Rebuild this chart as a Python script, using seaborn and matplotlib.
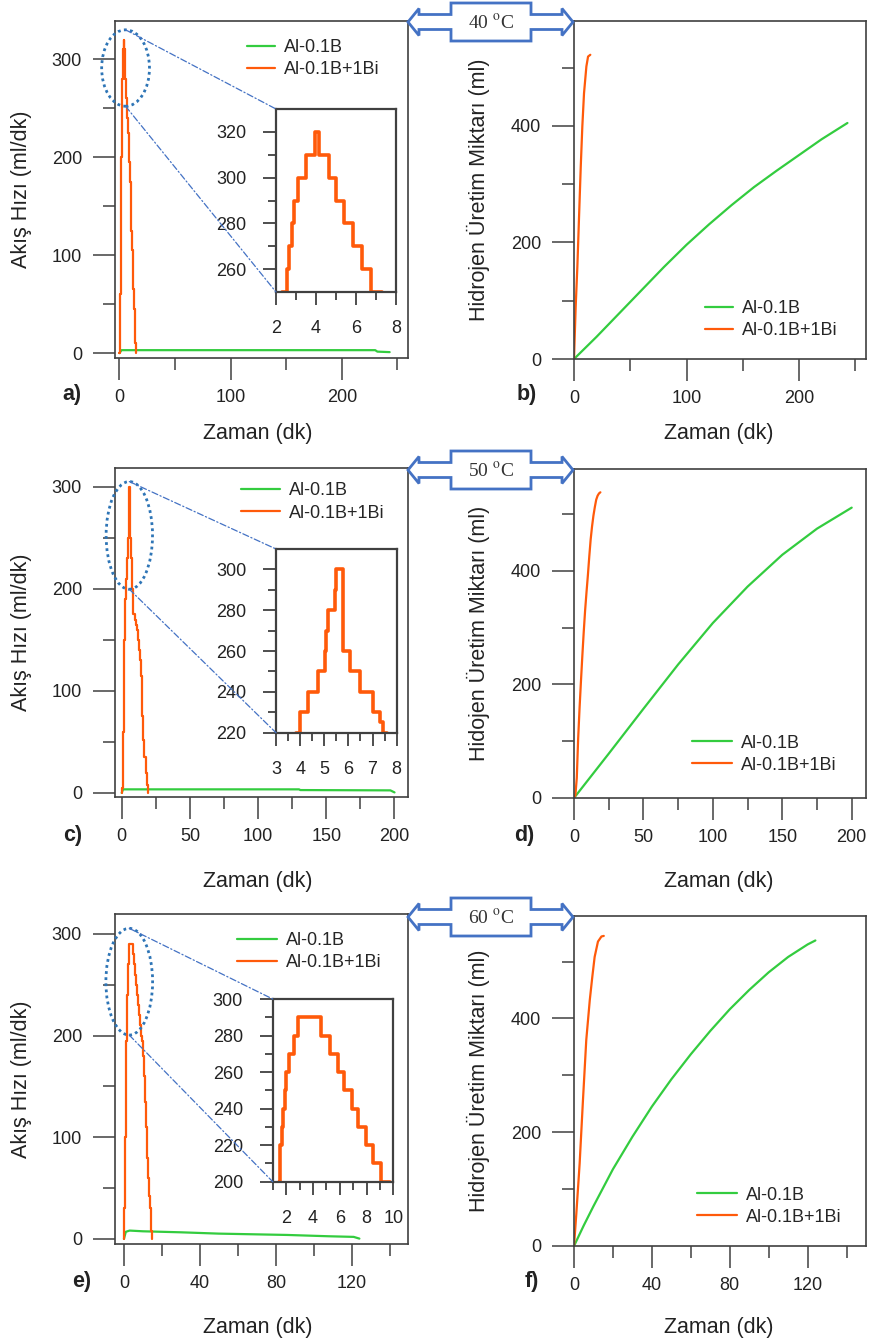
import matplotlib
matplotlib.use("Agg")
import matplotlib.pyplot as plt
import seaborn as sns
from matplotlib.patches import Ellipse, Polygon, ConnectionPatch

# --- veriler ---
labels = ["Al-0.1B", "Al-0.1B+1Bi"]

# 40 C - akis hizi (ml/dk)
t_a_b = [0, 2, 60, 120, 180, 230, 232, 243]
q_a_b = [0, 3, 3, 3, 3, 3, 1.5, 1]
t_a_bi = [0, 0.4, 0.8, 1.2, 1.6, 2.0, 2.3, 2.57, 2.67, 2.78, 2.92, 3.12, 3.5, 3.95, 4.17,
          4.67, 5.0, 5.42, 5.83, 6.28, 6.73, 7.28, 7.8, 8.4, 9.0, 9.6, 10.2, 10.8, 11.4,
          12.0, 12.6, 13.2, 13.8, 14.4, 15.0]
q_a_bi = [0, 10, 60, 170, 200, 230, 250, 260, 270, 280, 290, 300, 310, 320, 310,
          300, 290, 280, 270, 260, 250, 240, 225, 210, 195, 175, 150, 125, 105,
          85, 65, 45, 25, 10, 0]

# 40 C - hidrojen miktari (ml)
t_b_b = [0, 20, 40, 60, 80, 100, 120, 140, 160, 180, 200, 220, 243]
v_b_b = [0, 38, 78, 118, 158, 196, 231, 264, 295, 323, 350, 377, 405]
t_b_bi = [0, 1.5, 3, 4.5, 6, 7.4, 8.9, 11, 12.5, 14.5]
v_b_bi = [0, 90, 159, 245, 330, 399, 456, 502, 519, 522]

# 50 C - akis hizi
t_c_b = [0, 1, 130, 131, 197, 200]
q_c_b = [0, 3.5, 3.5, 2.8, 2.5, 0.5]
t_c_bi = [0, 0.3, 1.0, 1.3, 1.8, 2.3, 2.8, 3.3, 3.83, 4.0, 4.34, 4.75, 5.03, 5.08, 5.15,
          5.45, 5.5, 5.79, 6.07, 6.48, 7.03, 7.3, 7.45, 7.6, 8.0, 8.5, 9.5, 10.5, 11.0,
          12.0, 13.0, 13.6, 14.2, 14.6, 15.2, 15.9, 16.6, 17.6, 18.3, 19.0]
q_c_bi = [0, 5, 5, 60, 150, 190, 200, 210, 220, 230, 240, 250, 260, 270, 280,
          290, 300, 260, 250, 240, 230, 225, 220, 200, 185, 175, 170, 165, 160,
          150, 140, 130, 115, 100, 75, 52, 35, 20, 8, 0]

# 50 C - hidrojen miktari
t_d_b = [0, 25, 50, 75, 100, 125, 150, 175, 200]
v_d_b = [0, 78, 157, 235, 308, 372, 428, 474, 511]
t_d_bi = [0, 1, 2, 3, 4, 5, 6, 7, 8, 9, 10, 11, 12, 13, 14, 15, 16, 17, 18, 19]
v_d_bi = [0, 5, 35, 105, 158, 205, 250, 292, 330, 362, 392, 425, 455, 478, 497,
          512, 525, 532, 536, 538]

# 60 C - akis hizi
t_e_b = [0, 1, 3, 10, 30, 50, 86, 108, 121, 124]
q_e_b = [0, 7, 8.2, 7.5, 6.5, 5.2, 3.9, 2.6, 2, 0.3]
t_e_bi = [0, 0.3, 0.6, 0.9, 1.2, 1.5, 1.58, 1.67, 1.8, 1.92, 2.0, 2.24, 2.6, 2.86, 4.6,
          5.27, 5.9, 6.35, 6.9, 7.4, 7.95, 8.5, 9.05, 9.75, 10.2, 10.6, 11.0, 11.5,
          12.0, 12.5, 13.0, 13.5, 14.0, 14.5, 15.0]
q_e_bi = [0, 30, 100, 170, 195, 200, 220, 230, 240, 250, 260, 270, 280, 290, 280,
          270, 260, 250, 240, 230, 220, 210, 200, 195, 180, 160, 135, 110,
          80, 60, 42, 30, 18, 8, 0]

# 60 C - hidrojen miktari
t_f_b = [0, 5, 10, 20, 30, 40, 50, 60, 70, 80, 90, 100, 110, 120, 124]
v_f_b = [0, 36, 70, 135, 192, 245, 293, 337, 378, 416, 450, 481, 508, 530, 537]
t_f_bi = [0, 1.2, 2.9, 4.6, 6.3, 8.1, 9.4, 10.6, 12.3, 14.1, 15.3]
v_f_bi = [0, 57, 145, 256, 362, 432, 473, 508, 535, 544, 545]

temps = ["40", "50", "60"]
panel_names = ["a)", "b)", "c)", "d)", "e)", "f)"]

GREEN = "#33cc3f"
ORANGE = "#ff5a0a"
FRAME = "#404040"
BLUE = "#4472C4"

sns.set_style("ticks")
plt.rcParams["font.family"] = ["Liberation Sans", "DejaVu Sans"]
plt.rcParams["mathtext.fontset"] = "stix"

W, H = 869, 1342
fig = plt.figure(figsize=(W / 100, H / 100), dpi=100)


def px_axes(left, top, right, bottom):
    return fig.add_axes([left / W, 1 - bottom / H, (right - left) / W, (bottom - top) / H])


def style(ax, xmaj, xmin, ymaj, ymin, inset=False):
    ax.set_xticks(xmaj)
    ax.set_xticks(xmin, minor=True)
    ax.set_yticks(ymaj)
    ax.set_yticks(ymin, minor=True)
    if inset:
        ax.tick_params(axis="both", which="major", length=9.4, width=1.3, colors=FRAME,
                       labelcolor="#222222", labelsize=13)
        ax.tick_params(axis="both", which="minor", length=5.5, width=1.3, colors=FRAME)
        ax.tick_params(axis="x", which="major", pad=11)
        ax.tick_params(axis="y", which="major", pad=12)
    else:
        ax.tick_params(axis="both", which="major", length=15.8, width=1.1, colors=FRAME,
                       labelcolor="#222222", labelsize=13)
        ax.tick_params(axis="both", which="minor", length=8.5, width=1.1, colors=FRAME)
        ax.tick_params(axis="x", which="major", pad=6.5)
        ax.tick_params(axis="y", which="major", pad=8)
    for s in ax.spines.values():
        s.set_color(FRAME)
        s.set_linewidth(1.6 if inset else 1.2)
    ax.set_xlabel("")
    ax.set_ylabel("")


def legend(ax, x, y, hl):
    ax.legend(loc="upper left", bbox_to_anchor=(x, y), frameon=False, fontsize=13,
              handlelength=hl, handletextpad=0.5, labelspacing=0.28,
              borderpad=0, borderaxespad=0)


# panel geometry in pixels: (left, top, right, bottom)
rows = [
    dict(flow=(115, 21, 408, 358), vol=(574, 21, 866, 359), inset=(276, 109, 396, 292)),
    dict(flow=(115, 468, 408, 797), vol=(574, 469, 866, 798), inset=(276, 549, 396.7, 732.7)),
    dict(flow=(115, 914, 408, 1244), vol=(574, 916, 866, 1246), inset=(272.7, 999, 393.3, 1181.7)),
]

flow_data = [(t_a_b, q_a_b, t_a_bi, q_a_bi), (t_c_b, q_c_b, t_c_bi, q_c_bi),
             (t_e_b, q_e_b, t_e_bi, q_e_bi)]
vol_data = [(t_b_b, v_b_b, t_b_bi, v_b_bi), (t_d_b, v_d_b, t_d_bi, v_d_bi),
            (t_f_b, v_f_b, t_f_bi, v_f_bi)]

flow_lims = [((-3.9, 259.5), (-5, 339)), ((-4.9, 209.9), (-4, 318.6)), ((-4.7, 149.6), (-5, 319.6))]
vol_lims = [((0, 259.5), (0, 580)), ((0, 210.3), (0, 579)), ((0, 150), (0, 580))]
x_ticks = [([0, 100, 200], [50, 150, 250]), ([0, 50, 100, 150, 200], [25, 75, 125, 175]),
           ([0, 40, 80, 120], [20, 60, 100, 140])]
inset_lims = [((2, 8), (250, 330)), ((3, 8), (220, 310)), ((1, 10), (200, 300))]
inset_ticks = [([2, 4, 6, 8], [3, 5, 7], [260, 280, 300, 320], [270, 290, 310]),
               ([3, 4, 5, 6, 7, 8], [3.5, 4.5, 5.5, 6.5, 7.5], [220, 240, 260, 280, 300], [230, 250, 270, 290]),
               ([2, 4, 6, 8, 10], [1, 3, 5, 7, 9], [200, 220, 240, 260, 280, 300], [210, 230, 250, 270, 290])]
ellipses = [(5.6, 291, 43, 78), (5.6, 252.5, 34, 105.6), (2.8, 253, 24.6, 105)]
flow_leg = [(0.45, 0.946, 1.55), (0.429, 0.956, 2.2), (0.416, 0.945, 2.2)]
vol_leg = [(0.449, 0.174, 1.55), (0.404, 0.193, 2.2), (0.421, 0.180, 2.2)]
ylab_vol = ["Hidrojen Üretim Miktarı (ml)", "Hidojen Üretim Miktarı (ml)", "Hidrojen Üretim Miktarı (ml)"]
xlab_y = [433, 881, 1328]
plab_y = [395, 835, 1282]
plab_x = [(72, 527), (73, 524), (82, 532)]

for i, r in enumerate(rows):
    # --- akis hizi ---
    ax = px_axes(*r["flow"])
    tb, qb, tbi, qbi = flow_data[i]
    sns.lineplot(x=tb, y=qb, ax=ax, color=GREEN, lw=1.6, label=labels[0])
    sns.lineplot(x=tbi, y=qbi, ax=ax, color=ORANGE, lw=1.6, drawstyle="steps-post",
                 label=labels[1])
    ax.set_xlim(*flow_lims[i][0])
    ax.set_ylim(*flow_lims[i][1])
    style(ax, x_ticks[i][0], x_ticks[i][1], [0, 100, 200, 300], [50, 150, 250])
    legend(ax, *flow_leg[i])

    cx, cy, ew, eh = ellipses[i]
    ax.add_patch(Ellipse((cx, cy), ew, eh, fill=False, ec="#2E75B6", ls=(0, (1, 1.2)),
                         lw=2, clip_on=False, zorder=5))

    # --- buyutulmus kutu ---
    ins = px_axes(*r["inset"])
    ins.set_facecolor("white")
    sns.lineplot(x=tbi, y=qbi, ax=ins, color=ORANGE, lw=2.6, drawstyle="steps-post")
    ins.set_xlim(*inset_lims[i][0])
    ins.set_ylim(*inset_lims[i][1])
    style(ins, *inset_ticks[i], inset=True)

    for (yy, corner) in [(cy + eh / 2, (0, 1)), (cy - eh / 2, (0, 0))]:
        con = ConnectionPatch(xyA=(cx, yy), coordsA=ax.transData, xyB=corner,
                              coordsB=ins.transAxes, color=BLUE, lw=0.9,
                              ls=(0, (5, 2, 1, 2)), zorder=4)
        fig.add_artist(con)

    # --- hidrojen miktari ---
    axv = px_axes(*r["vol"])
    tb, vb, tbi, vbi = vol_data[i]
    sns.lineplot(x=tb, y=vb, ax=axv, color=GREEN, lw=1.6, label=labels[0])
    sns.lineplot(x=tbi, y=vbi, ax=axv, color=ORANGE, lw=1.6, label=labels[1])
    axv.set_xlim(*vol_lims[i][0])
    axv.set_ylim(*vol_lims[i][1])
    style(axv, x_ticks[i][0], x_ticks[i][1], [0, 200, 400], [100, 300, 500])
    legend(axv, *vol_leg[i])

    # --- eksen yazilari ---
    fl, ft, fr, fb = r["flow"]
    vl, vt, vr, vb_ = r["vol"]
    fig.text(22 / W, 1 - (ft + fb) / 2 / H, "Akış Hızı (ml/dk)", rotation=90,
             ha="center", va="center", fontsize=15.5, color="#222222")
    fig.text(478 / W, 1 - (vt + vb_) / 2 / H, ylab_vol[i], rotation=90,
             ha="center", va="center", fontsize=15.5, color="#222222")
    fig.text(258 / W, 1 - xlab_y[i] / H, "Zaman (dk)", ha="center", va="center",
             fontsize=15.5, color="#222222")
    fig.text(719 / W, 1 - xlab_y[i] / H, "Zaman (dk)", ha="center", va="center",
             fontsize=15.5, color="#222222")
    fig.text(plab_x[i][0] / W, 1 - plab_y[i] / H, panel_names[2 * i], ha="center",
             va="center", fontsize=15.5, fontweight="bold", color="#222222")
    fig.text(plab_x[i][1] / W, 1 - plab_y[i] / H, panel_names[2 * i + 1], ha="center",
             va="center", fontsize=15.5, fontweight="bold", color="#222222")

    # --- sicaklik oku ---
    ccx, ccy = 491, vt + 1
    shape = [(-40, -19), (40, -19), (40, -7.5), (71, -7.5), (71, -13.5), (82, 0),
             (71, 13.5), (71, 7.5), (40, 7.5), (40, 19), (-40, 19), (-40, 7.5),
             (-72, 7.5), (-72, 13.5), (-83, 0), (-72, -13.5), (-72, -7.5), (-40, -7.5)]
    pts = [((ccx + dx) / W, 1 - (ccy + dy) / H) for dx, dy in shape]
    fig.add_artist(Polygon(pts, closed=True, fc="white", ec=BLUE, lw=2,
                           transform=fig.transFigure, zorder=10))
    fig.text(ccx / W, 1 - (ccy + 1) / H, temps[i] + r" $^{\mathrm{o}}$C", ha="center",
             va="center", fontsize=14, family="Liberation Serif", color="#333333",
             zorder=11)

fig.savefig("out.png", dpi=100, facecolor="white")
